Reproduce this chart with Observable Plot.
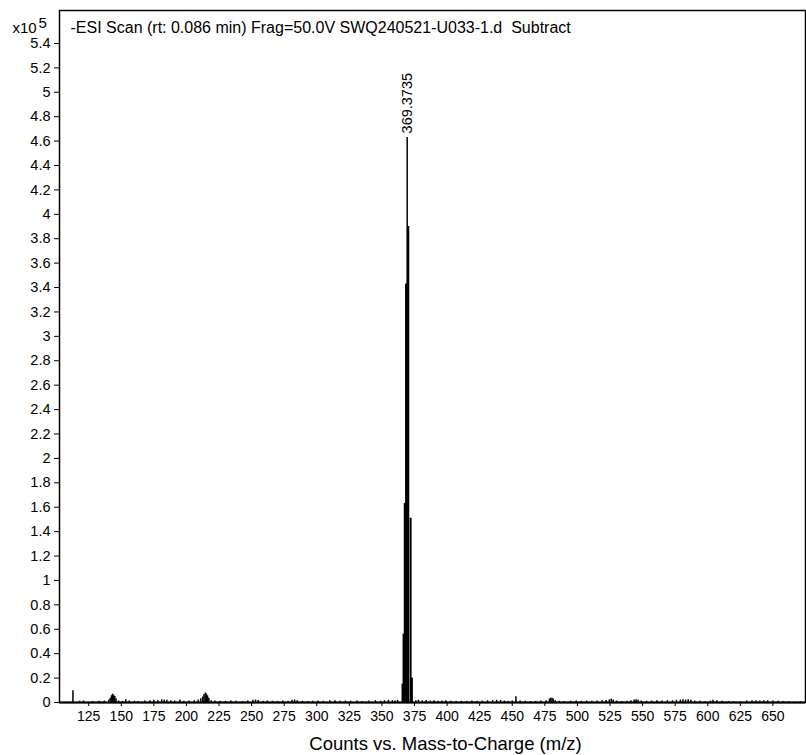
<!DOCTYPE html>
<html><head><meta charset="utf-8">
<script src="https://cdn.jsdelivr.net/npm/d3@7"></script>
<script src="https://cdn.jsdelivr.net/npm/@observablehq/plot@0.6"></script>
<style>body{margin:0;background:#fff;} svg text{white-space:pre;}</style>
</head><body><div id="chart"></div>
<script>
const titleText = "-ESI Scan (rt: 0.086 min) Frag=50.0V SWQ240521-U033-1.d  Subtract";
const xLabel = "Counts vs. Mass-to-Charge (m/z)";
const yScaleLabel = "x10";
const yScaleExp = "5";
const peakLabel = "369.3735";
const xTicks = [125,150,175,200,225,250,275,300,325,350,375,400,425,450,475,500,525,550,575,600,625,650];
const yTicks = [0,0.2,0.4,0.6,0.8,1,1.2,1.4,1.6,1.8,2,2.2,2.4,2.6,2.8,3,3.2,3.4,3.6,3.8,4,4.2,4.4,4.6,4.8,5,5.2,5.4];
// intensities in units of 10^5 counts
const clusterMz  = [365.8, 366.6, 367.5, 368.5, 370.2, 372.0, 373.0];
const clusterInt = [0.15, 0.56, 1.63, 3.43, 3.90, 1.51, 0.20];
const peakMz = [369.37];
const peakInt = [4.63];
const noiseMz = [112.9,118,121,128,133,137,140.5,141.5,142.5,143.3,144.1,145,146,148,151,153.5,156,160,163,168,172,175,178,181,183,185,188,191,195,198,202,206,209,211,212.5,213.5,214.5,215.3,216.2,217.2,219,222,226,230,234,238,243,247,251,253,255,259,262,266,270,274,278,281,283,285,289,293,297,301,305,310,314,318,322,326,331,335,340,345,349,352,355,358,360,362,376,378,381,384,387,390,393,396,399,403,407,411,415,419,423,427,431,435,438,441,444,447,450,452.8,456,460,464,468,472,476,478.5,479.5,480.5,481.5,483,486,490,495,499,503,507,511,515,519,522,524.5,526,527.5,530,534,538,541,543.5,545,546.5,549,553,557,561,565,569,573,576,579,581,583,585,587,590,594,598,602,604,607,611,616,620,625,630,634,637,640,643,646,650,654,658,662,667,671];
const noiseInt = [0.096,0.01,0.012,0.008,0.01,0.012,0.02,0.035,0.055,0.068,0.06,0.05,0.03,0.012,0.01,0.022,0.012,0.01,0.008,0.012,0.015,0.018,0.014,0.022,0.02,0.018,0.015,0.012,0.02,0.01,0.012,0.015,0.02,0.03,0.045,0.065,0.078,0.07,0.055,0.035,0.015,0.012,0.01,0.008,0.012,0.01,0.008,0.012,0.018,0.02,0.016,0.01,0.012,0.01,0.009,0.012,0.01,0.018,0.02,0.015,0.01,0.008,0.01,0.012,0.01,0.014,0.015,0.01,0.012,0.01,0.012,0.008,0.012,0.015,0.01,0.014,0.018,0.015,0.012,0.018,0.015,0.018,0.014,0.016,0.012,0.015,0.01,0.012,0.015,0.01,0.008,0.01,0.009,0.012,0.01,0.012,0.014,0.016,0.018,0.016,0.012,0.01,0.012,0.047,0.012,0.01,0.008,0.01,0.012,0.015,0.028,0.035,0.034,0.028,0.015,0.01,0.008,0.01,0.012,0.01,0.012,0.01,0.012,0.014,0.016,0.022,0.027,0.02,0.012,0.008,0.01,0.015,0.02,0.022,0.018,0.012,0.01,0.012,0.014,0.012,0.015,0.014,0.018,0.02,0.022,0.02,0.022,0.018,0.012,0.01,0.008,0.012,0.018,0.015,0.01,0.008,0.006,0.005,0.012,0.015,0.014,0.012,0.015,0.014,0.012,0.01,0.008,0.006,0.005,0.005];

const noise = noiseMz.map((m,i)=>({mz:m, v:noiseInt[i]}));
const cluster = clusterMz.map((m,i)=>({mz:m, v:clusterInt[i]}));
const peak = peakMz.map((m,i)=>({mz:m, v:peakInt[i], label:peakLabel}));

const chart = Plot.plot({
  width: 806, height: 755,
  marginLeft: 59, marginTop: 10, marginRight: 1, marginBottom: 53,
  style: {fontFamily: "'Liberation Sans', Arial, sans-serif", fontSize: "14px", color: "black", background: "white"},
  x: {domain: [102.6, 675]},
  y: {domain: [0, 5.67]},
  marks: [
    Plot.ruleX(noise, {x: "mz", y1: 0, y2: "v", stroke: "black", strokeWidth: 1.5}),
    Plot.ruleX(cluster, {x: "mz", y1: 0, y2: "v", stroke: "black", strokeWidth: 2}),
    Plot.ruleX(peak, {x: "mz", y1: 0, y2: "v", stroke: "black", strokeWidth: 1.5}),
    Plot.text(peak, {x: "mz", y: "v", text: "label", rotate: -90, textAnchor: "start", lineAnchor: "middle", dy: -4, fontSize: 14.5, fill: "black"}),
    Plot.axisX(xTicks, {tickSize: 4, tickPadding: 5, fontSize: 14, label: null, stroke: "black", fill: "black"}),
    Plot.axisY(yTicks, {tickSize: 5, tickPadding: 4, fontSize: 14.5, label: null, stroke: "black", fill: "black", tickFormat: d => String(+d.toFixed(1))}),
    Plot.frame({stroke: "black", strokeWidth: 1.5}),
    Plot.ruleY([0], {stroke: "black", strokeWidth: 2}),
    Plot.text([titleText], {text: d => d, frameAnchor: "top-left", textAnchor: "start", lineAnchor: "middle", dx: 11, dy: 17, fontSize: 16, fill: "black"}),
    Plot.text([yScaleLabel], {text: d => d, frameAnchor: "top-left", textAnchor: "start", lineAnchor: "middle", dx: -47, dy: 18, fontSize: 15, fill: "black"}),
    Plot.text([yScaleExp], {text: d => d, frameAnchor: "top-left", textAnchor: "start", lineAnchor: "middle", dx: -21, dy: 13, fontSize: 15, fill: "black"}),
    Plot.text([xLabel], {text: d => d, frameAnchor: "bottom", lineAnchor: "middle", dx: 13, dy: 42, fontSize: 18.5, fill: "black"})
  ]
});
document.getElementById("chart").appendChild(chart);
</script>
</body></html>
